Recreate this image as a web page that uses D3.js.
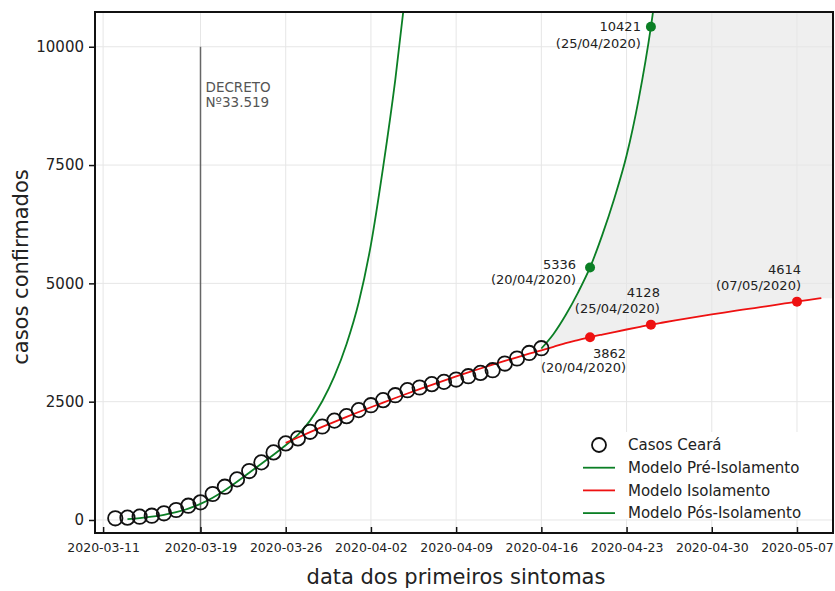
<!DOCTYPE html>
<html>
<head>
<meta charset="utf-8">
<script src="https://cdn.jsdelivr.net/npm/d3@7"></script>
<style>
  body { margin: 0; background: #fff; }
  text { font-family: "DejaVu Sans", sans-serif; }
</style>
</head>
<body>
<svg id="chart" width="835" height="591"></svg>
<script>
// observed cases, one per day starting 2020-03-12
const casosStart = "2020-03-12";
const casosCeara = [36, 49, 70, 91, 141, 211, 302, 373, 549, 703, 858, 1034, 1217, 1428, 1618,
  1724, 1863, 1975, 2100, 2194, 2321, 2426, 2532, 2637, 2743, 2799, 2870, 2918, 2968, 3038,
  3108, 3165, 3306, 3412, 3530, 3630];

// model curves, one value per day
const preStart = "2020-03-13";
const preIsolamento = [20, 40, 70, 110, 165, 240, 340, 470, 630, 810, 1000, 1190, 1380, 1580,
  1800, 2100, 2510, 3040, 3720, 4600, 5820, 7450, 9300, 11500];

const isoStart = "2020-03-26";
const isolamento = [1630, 1744, 1856, 1966, 2073, 2178, 2281, 2382, 2481, 2578, 2673, 2766,
  2857, 2946, 3033, 3118, 3201, 3282, 3361, 3438, 3513, 3586, 3660, 3735, 3800, 3862, 3918,
  3972, 4025, 4077, 4128, 4173, 4217, 4260, 4302, 4343, 4383, 4422, 4460, 4498, 4536, 4575,
  4614, 4652, 4688];

const posStart = "2020-04-16";
const posIsolamento = [3623, 3930, 4330, 4800, 5336, 6020, 6800, 7700, 8900, 10421, 12400];

// highlighted projections
const posMarkDates = ["2020-04-20", "2020-04-25"];
const posMarkValues = [5336, 10421];
const isoMarkDates = ["2020-04-20", "2020-04-25", "2020-05-07"];
const isoMarkValues = [3862, 4128, 4614];

const xTickLabels = ["2020-03-11", "2020-03-19", "2020-03-26", "2020-04-02", "2020-04-09",
  "2020-04-16", "2020-04-23", "2020-04-30", "2020-05-07"];
const yTickValues = [0, 2500, 5000, 7500, 10000];
const decretoDate = "2020-03-19";

const parse = d3.utcParse("%Y-%m-%d");
const daily = (start, vals) => vals.map((v, i) => ({ date: d3.utcDay.offset(parse(start), i), value: v }));

const casos = daily(casosStart, casosCeara);
const pre = daily(preStart, preIsolamento);
const iso = daily(isoStart, isolamento);
const pos = daily(posStart, posIsolamento);

const mLeft = 95, mRight = 833, mTop = 12, mBottom = 533;
const green = "#0b7f25", red = "#ee1111";

const x = d3.scaleUtc()
  .domain([d3.utcHour.offset(parse("2020-03-11"), -16), d3.utcHour.offset(parse("2020-05-09"), 23)])
  .range([mLeft, mRight]);
const y = d3.scaleLinear().domain([-275, 10734]).range([mBottom, mTop]);

const svg = d3.select("#chart");

svg.append("defs").append("clipPath").attr("id", "plotclip")
  .append("rect").attr("x", mLeft).attr("y", mTop).attr("width", mRight - mLeft).attr("height", mBottom - mTop);

const plot = svg.append("g").attr("clip-path", "url(#plotclip)");

// shaded band between the two projections
const band = pos.map(d => [x(d.date), y(d.value)])
  .concat([[mRight, mTop], [mRight, y(iso[iso.length - 1].value)]])
  .concat(iso.filter(d => d.date >= parse(posStart)).reverse().map(d => [x(d.date), y(d.value)]));
plot.append("path")
  .attr("d", d3.line()(band))
  .attr("fill", "#efefef");

// grid
const xTicks = xTickLabels.map(parse);
plot.append("g").selectAll("line").data(xTicks).join("line")
  .attr("x1", d => x(d)).attr("x2", d => x(d)).attr("y1", mTop).attr("y2", mBottom)
  .attr("stroke", "#e6e6e6").attr("stroke-width", 1);
plot.append("g").selectAll("line").data(yTickValues).join("line")
  .attr("x1", mLeft).attr("x2", mRight).attr("y1", d => y(d)).attr("y2", d => y(d))
  .attr("stroke", "#e6e6e6").attr("stroke-width", 1);

// decreto line
plot.append("line")
  .attr("x1", x(parse(decretoDate))).attr("x2", x(parse(decretoDate)))
  .attr("y1", y(10000)).attr("y2", mBottom)
  .attr("stroke", "#666").attr("stroke-width", 1.5);
svg.append("text").attr("x", x(parse(decretoDate)) + 5).attr("y", 92)
  .attr("font-size", 13.5).attr("fill", "#555").text("DECRETO");
svg.append("text").attr("x", x(parse(decretoDate)) + 5).attr("y", 107)
  .attr("font-size", 13.5).attr("fill", "#555").text("Nº33.519");

// model curves
const line = d3.line().x(d => x(d.date)).y(d => y(d.value)).curve(d3.curveMonotoneX);
plot.append("path").datum(pre).attr("d", line).attr("fill", "none").attr("stroke", green).attr("stroke-width", 1.8);
plot.append("path").datum(pos).attr("d", line).attr("fill", "none").attr("stroke", green).attr("stroke-width", 1.8);
plot.append("path").datum(iso).attr("d", line).attr("fill", "none").attr("stroke", red).attr("stroke-width", 1.8);

// observed cases
plot.append("g").selectAll("circle").data(casos).join("circle")
  .attr("cx", d => x(d.date)).attr("cy", d => y(d.value)).attr("r", 7.2)
  .attr("fill", "none").attr("stroke", "#111").attr("stroke-width", 1.8);

// projection markers and labels
const fmtDate = d3.utcFormat("(%d/%m/%Y)");
const marks = [
  { date: posMarkDates[1], value: posMarkValues[1], color: green, dx: -10, dy1: 0, dy2: 17 },
  { date: posMarkDates[0], value: posMarkValues[0], color: green, dx: -14, dy1: -3, dy2: 12 },
  { date: isoMarkDates[1], value: isoMarkValues[1], color: red, dx: 9, dy1: -32, dy2: -16 },
  { date: isoMarkDates[2], value: isoMarkValues[2], color: red, dx: 4, dy1: -32, dy2: -16 },
  { date: isoMarkDates[0], value: isoMarkValues[0], color: red, dx: 36, dy1: 16, dy2: 30 }
];
marks.forEach(m => {
  const px = x(parse(m.date)), py = y(m.value);
  plot.append("circle").attr("cx", px).attr("cy", py).attr("r", 5).attr("fill", m.color);
  svg.append("text").attr("x", px + m.dx).attr("y", py + m.dy1).attr("dy", "0.35em")
    .attr("text-anchor", "end").attr("font-size", 13).attr("fill", "#222").text(m.value);
  svg.append("text").attr("x", px + m.dx).attr("y", py + m.dy2).attr("dy", "0.35em")
    .attr("text-anchor", "end").attr("font-size", 13).attr("fill", "#222").text(fmtDate(parse(m.date)));
});

// legend
const lg = svg.append("g");
lg.append("rect").attr("x", 576).attr("y", 432).attr("width", 244).attr("height", 87).attr("fill", "#fff");
const legendItems = [
  { label: "Casos Ceará", type: "circle", color: "#111" },
  { label: "Modelo Pré-Isolamento", type: "line", color: green },
  { label: "Modelo Isolamento", type: "line", color: red },
  { label: "Modelo Pós-Isolamento", type: "line", color: green }
];
legendItems.forEach((it, i) => {
  const ly = 445 + i * 22.7;
  if (it.type === "circle") {
    lg.append("circle").attr("cx", 599).attr("cy", ly).attr("r", 7)
      .attr("fill", "none").attr("stroke", it.color).attr("stroke-width", 1.8);
  } else {
    lg.append("line").attr("x1", 583).attr("x2", 615).attr("y1", ly).attr("y2", ly)
      .attr("stroke", it.color).attr("stroke-width", 1.8);
  }
  lg.append("text").attr("x", 628).attr("y", ly).attr("dy", "0.35em")
    .attr("font-size", 15).attr("fill", "#222").text(it.label);
});

// axes
const xAxis = d3.axisBottom(x).tickValues(xTicks).tickFormat(d3.utcFormat("%Y-%m-%d"))
  .tickSizeInner(-6).tickSizeOuter(0).tickPadding(10);
const gx = svg.append("g").attr("transform", `translate(0,${mBottom})`).call(xAxis);
gx.select(".domain").remove();
gx.selectAll("line").attr("stroke", "#111").attr("stroke-width", 1.5);
gx.selectAll("text").attr("font-size", 12.5).attr("fill", "#222").attr("font-family", "DejaVu Sans");

const yAxis = d3.axisLeft(y).tickValues(yTickValues).tickFormat(d3.format("d"))
  .tickSizeInner(6).tickSizeOuter(0).tickPadding(5);
const gy = svg.append("g").attr("transform", `translate(${mLeft},0)`).call(yAxis);
gy.select(".domain").remove();
gy.selectAll("line").attr("stroke", "#111").attr("stroke-width", 1.5);
gy.selectAll("text").attr("font-size", 15).attr("fill", "#222").attr("font-family", "DejaVu Sans");

// frame
svg.append("rect").attr("x", mLeft).attr("y", mTop).attr("width", mRight - mLeft).attr("height", mBottom - mTop)
  .attr("fill", "none").attr("stroke", "#111").attr("stroke-width", 2);

// axis titles
svg.append("text").attr("x", 456).attr("y", 584).attr("text-anchor", "middle")
  .attr("font-size", 21).attr("fill", "#222").text("data dos primeiros sintomas");
svg.append("text").attr("transform", "translate(28,267) rotate(-90)").attr("text-anchor", "middle")
  .attr("font-size", 21).attr("fill", "#222").text("casos confirmados");
</script>
</body>
</html>
